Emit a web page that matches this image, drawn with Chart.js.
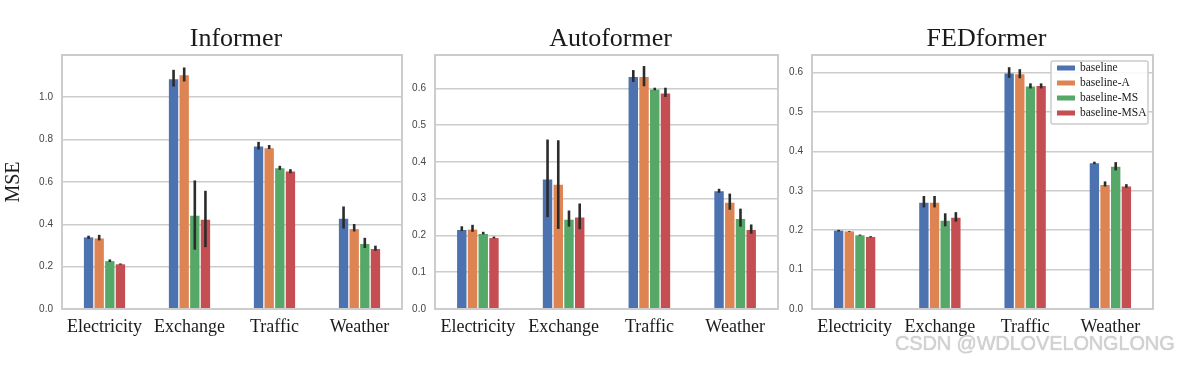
<!DOCTYPE html>
<html>
<head>
<meta charset="utf-8">
<script src="https://cdn.jsdelivr.net/npm/chart.js@4"></script>
<style>
  body { margin: 0; background: #fff; }
  #wrap { position: relative; width: 1181px; height: 365px; overflow: hidden; }
  canvas { position: absolute; top: 0; }
  #mark { position: absolute; left: 895px; top: 332px; white-space: nowrap; font-family: "Liberation Sans", Arial, sans-serif;
          font-size: 20px; color: #d2d2d2; letter-spacing: -0.15px; text-shadow: 0 0 1px #bbb; }
</style>
</head>
<body>
<div id="wrap">
  <canvas id="c1" width="410" height="365" style="left:0px"></canvas>
  <canvas id="c2" width="375" height="365" style="left:410px"></canvas>
  <canvas id="c3" width="396" height="365" style="left:785px"></canvas>
  <div id="mark">CSDN @WDLOVELONGLONG</div>
</div>
<script>
const categories = ["Electricity", "Exchange", "Traffic", "Weather"];
const seriesNames = ["baseline", "baseline-A", "baseline-MS", "baseline-MSA"];
const colors = ["#4c72b0", "#dd8452", "#55a868", "#c44e52"];

// Informer: means, lower and upper error bounds per series
const informerMean = [
  [0.338, 1.085, 0.767, 0.426],
  [0.333, 1.104, 0.759, 0.377],
  [0.226, 0.440, 0.664, 0.307],
  [0.211, 0.421, 0.649, 0.283]
];
const informerLow = [
  [0.331, 1.050, 0.753, 0.380],
  [0.324, 1.074, 0.755, 0.366],
  [0.222, 0.280, 0.657, 0.288],
  [0.209, 0.292, 0.641, 0.275]
];
const informerHigh = [
  [0.346, 1.129, 0.789, 0.484],
  [0.350, 1.140, 0.774, 0.401],
  [0.234, 0.607, 0.676, 0.336],
  [0.215, 0.558, 0.660, 0.299]
];

// Autoformer
const autoMean = [
  [0.215, 0.352, 0.631, 0.320],
  [0.216, 0.338, 0.631, 0.289],
  [0.204, 0.243, 0.597, 0.245],
  [0.193, 0.249, 0.586, 0.215]
];
const autoLow = [
  [0.212, 0.250, 0.618, 0.316],
  [0.210, 0.218, 0.606, 0.270],
  [0.203, 0.224, 0.595, 0.224],
  [0.192, 0.217, 0.577, 0.205]
];
const autoHigh = [
  [0.225, 0.461, 0.650, 0.327],
  [0.229, 0.459, 0.661, 0.314],
  [0.210, 0.268, 0.602, 0.273],
  [0.197, 0.287, 0.602, 0.230]
];

// FEDformer
const fedMean = [
  [0.199, 0.270, 0.598, 0.370],
  [0.197, 0.270, 0.596, 0.315],
  [0.187, 0.224, 0.565, 0.361],
  [0.183, 0.232, 0.566, 0.311]
];
const fedLow = [
  [0.197, 0.258, 0.587, 0.368],
  [0.196, 0.258, 0.586, 0.311],
  [0.186, 0.210, 0.560, 0.352],
  [0.182, 0.222, 0.560, 0.308]
];
const fedHigh = [
  [0.201, 0.287, 0.614, 0.374],
  [0.198, 0.287, 0.609, 0.324],
  [0.189, 0.243, 0.573, 0.373],
  [0.185, 0.246, 0.573, 0.317]
];

const serif = "'Liberation Serif', 'Times New Roman', serif";
const sans = "'Liberation Sans', Arial, sans-serif";

// frame, title and error bars
const decor = {
  id: "decor",
  afterDatasetsDraw(chart, args, opts) {
    const ctx = chart.ctx, a = chart.chartArea, y = chart.scales.y;
    ctx.save();
    ctx.strokeStyle = "#2b2b2b";
    ctx.lineWidth = 2.6;
    chart.data.datasets.forEach((ds, i) => {
      chart.getDatasetMeta(i).data.forEach((bar, j) => {
        ctx.beginPath();
        ctx.moveTo(bar.x, y.getPixelForValue(ds.low[j]));
        ctx.lineTo(bar.x, y.getPixelForValue(ds.high[j]));
        ctx.stroke();
      });
    });
    ctx.strokeStyle = "#cccccc";
    ctx.lineWidth = 2;
    ctx.strokeRect(a.left, a.top, a.right - a.left, a.bottom - a.top);
    ctx.fillStyle = "#1a1a1a";
    ctx.font = "26px " + serif;
    ctx.textAlign = "center";
    ctx.textBaseline = "alphabetic";
    ctx.fillText(opts.title, (a.left + a.right) / 2 + 4, 46);
    if (opts.legend) {
      const lx = 1051 - 785, ly = 61;
      ctx.fillStyle = "rgba(255,255,255,0.85)";
      ctx.strokeStyle = "#cccccc";
      ctx.lineWidth = 1.5;
      ctx.beginPath();
      ctx.roundRect(lx, ly, 97, 63, 2);
      ctx.fill();
      ctx.stroke();
      ctx.font = "11.5px " + serif;
      ctx.textAlign = "left";
      ctx.textBaseline = "middle";
      chart.data.datasets.forEach((ds, i) => {
        const ry = ly + 7 + i * 15;
        ctx.fillStyle = ds.backgroundColor;
        ctx.fillRect(lx + 6, ry - 2.5, 18, 5);
        ctx.fillStyle = "#1a1a1a";
        ctx.fillText(ds.label, lx + 29, ry);
      });
    }
    ctx.restore();
  }
};

function makeChart(id, title, means, lows, highs, yMax, step, yWidth, padRight, showLabel, legend) {
  new Chart(document.getElementById(id), {
    type: "bar",
    data: {
      labels: categories,
      datasets: seriesNames.map((name, i) => ({
        label: name,
        data: means[i],
        low: lows[i],
        high: highs[i],
        backgroundColor: colors[i],
        borderWidth: 0,
        categoryPercentage: 0.5,
        barPercentage: 0.88
      }))
    },
    options: {
      responsive: false,
      devicePixelRatio: 1,
      animation: false,
      layout: { padding: { top: 55, right: padRight, left: 0, bottom: 0 } },
      plugins: {
        legend: { display: false },
        tooltip: { enabled: false },
        decor: { title: title, legend: legend }
      },
      scales: {
        x: {
          grid: { display: false, drawTicks: false },
          border: { display: false },
          ticks: { color: "#1a1a1a", font: { family: serif, size: 18 }, padding: 7, maxRotation: 0 },
          afterFit: s => { s.height = 56; }
        },
        y: {
          min: 0,
          max: yMax,
          grid: { color: "#cccccc", lineWidth: 1.5, drawTicks: false },
          border: { display: false },
          ticks: {
            stepSize: step,
            includeBounds: false,
            color: "#444",
            padding: 9,
            font: { family: sans, size: 10 },
            callback: v => v.toFixed(1)
          },
          title: {
            display: showLabel,
            text: "MSE",
            color: "#1a1a1a",
            font: { family: serif, size: 20 },
            padding: { top: 2, bottom: 0 }
          },
          afterFit: s => { s.width = yWidth; }
        }
      }
    },
    plugins: [decor]
  });
}

makeChart("c1", "Informer", informerMean, informerLow, informerHigh, 1.199, 0.2, 62, 8, true, false);
makeChart("c2", "Autoformer", autoMean, autoLow, autoHigh, 0.691, 0.1, 25, 7, false, false);
makeChart("c3", "FEDformer", fedMean, fedLow, fedHigh, 0.645, 0.1, 27, 28, false, true);
</script>
</body>
</html>
